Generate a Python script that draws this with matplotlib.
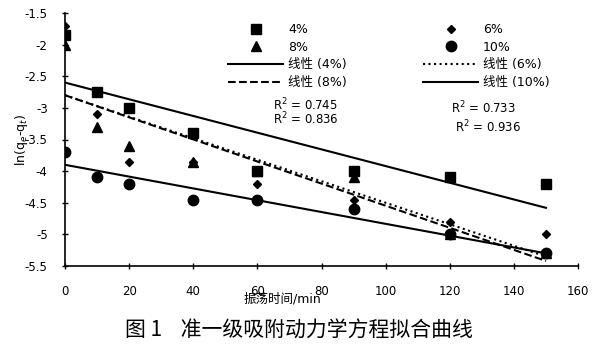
import matplotlib
matplotlib.use('Agg')
import matplotlib.pyplot as plt
import numpy as np
from matplotlib.ticker import FormatStrFormatter

plt.rcParams['font.family'] = ['DejaVu Sans', 'Noto Sans CJK SC']
plt.rcParams['axes.unicode_minus'] = False

# thoi gian lac (min)
t = [0, 10, 20, 40, 60, 90, 120, 150]
# ln(qe-qt) cho tung nong do
y4 = [-1.85, -2.75, -3.0, -3.4, -4.0, -4.0, -4.1, -4.2]
y6 = [-1.7, -3.1, -3.85, -3.85, -4.2, -4.45, -4.8, -5.0]
y8 = [-2.0, -3.3, -3.6, -3.85, -4.0, -4.1, -5.0, -5.3]
y10 = [-3.7, -4.1, -4.2, -4.45, -4.45, -4.6, -5.0, -5.3]

# duong hoi quy doc tu hinh: gia tri tai t=0 va t=150
fit_t = [0, 150]
fit4 = [-2.6, -4.58]
fit6 = [-2.8, -5.35]
fit8 = [-2.8, -5.42]
fit10 = [-3.9, -5.3]

r2_labels = ['R$^2$ = 0.745', 'R$^2$ = 0.836', 'R$^2$ = 0.733', 'R$^2$ = 0.936']

fig = plt.figure(figsize=(5.98, 3.52), dpi=100)
ax = fig.add_axes([65/598, 1-266/352, 513/598, 253/352])

ax.plot(t, y4, 's', color='black', markersize=7.5, label='4%')
ax.plot(t, y6, 'D', color='black', markersize=4.5, label='6%')
ax.plot(t, y8, '^', color='black', markersize=6.5, label='8%')
ax.plot(t, y10, 'o', color='black', markersize=7.5, label='10%')
ax.plot(fit_t, fit4, '-', color='black', lw=1.5, label='线性 (4%)')
ax.plot(fit_t, fit6, ':', color='black', lw=1.5, label='线性 (6%)')
ax.plot(fit_t, fit8, '--', color='black', lw=1.5, label='线性 (8%)')
ax.plot(fit_t, fit10, '-', color='black', lw=1.5, label='线性 (10%)')

ax.set_xlim(0, 160)
ax.set_ylim(-5.5, -1.5)
ax.set_xticks(np.arange(0, 161, 20))
ax.set_yticks(np.arange(-5.5, -1.4, 0.5))
ax.yaxis.set_major_formatter(FormatStrFormatter('%g'))
ax.spines['top'].set_visible(False)
ax.spines['right'].set_visible(False)
ax.spines['left'].set_linewidth(1.2)
ax.spines['bottom'].set_linewidth(1.2)
ax.tick_params(direction='inout', length=5, width=1, labelsize=8.5)
ax.tick_params(axis='x', pad=11)
ax.tick_params(axis='y', pad=10)

ax.set_xlabel('振荡时间/min', fontsize=9)
ax.xaxis.set_label_coords((282-65)/513, (266-292)/253)
ax.set_ylabel('ln(q$_e$-q$_t$)', fontsize=9)
ax.yaxis.set_label_coords((30-65)/513, 0.5)

h, l = ax.get_legend_handles_labels()
order = [0, 2, 4, 6, 1, 3, 5, 7]
leg = ax.legend([h[i] for i in order], [l[i] for i in order], ncol=2, frameon=False,
                loc='upper left', bbox_to_anchor=((228-65)/513, (266-23)/253),
                borderpad=0, borderaxespad=0, handlelength=4.4, handletextpad=0.4,
                columnspacing=6.1, labelspacing=0.37, fontsize=9)

ax.text(65, -2.95, r2_labels[0], fontsize=8.5, va='center')
ax.text(65, -3.18, r2_labels[1], fontsize=8.5, va='center')
ax.text(120.5, -3.0, r2_labels[2], fontsize=8.5, va='center')
ax.text(121.5, -3.3, r2_labels[3], fontsize=8.5, va='center')

fig.text(0.5, 1-330/352, '图 1    准一级吸附动力学方程拟合曲线', ha='center', va='center',
         fontsize=15, family=['Noto Sans CJK SC'])

fig.savefig('out.png', dpi=100)
